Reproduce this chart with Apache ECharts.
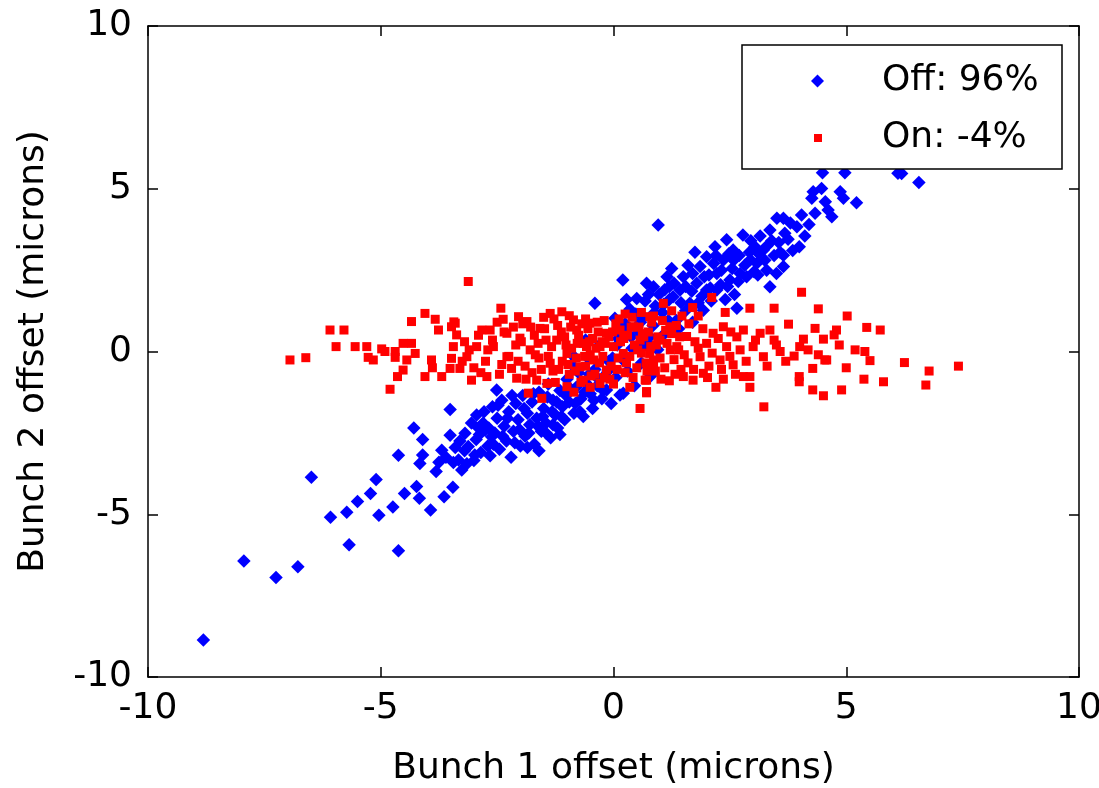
<!DOCTYPE html>
<html><head><meta charset="utf-8">
<script src="https://cdn.jsdelivr.net/npm/echarts@6/dist/echarts.min.js"></script>
<style>html,body{margin:0;padding:0;background:#fff}#c{width:1099px;height:788px}</style>
</head><body><div id="c"></div>
<script>
// ---- data ----
const seriesNames = ['Off: 96%', 'On: -4%'];
const xTicks = [-10, -5, 0, 5, 10];
const yTicks = [-10, -5, 0, 5, 10];
const xTitle = 'Bunch 1 offset (microns)';
const yTitle = 'Bunch 2 offset (microns)';

// feedback off (blue diamonds): [bunch1, bunch2]
const offPoints = [
[-8.81,-8.86],[-7.94,-6.44],[-7.25,-6.94],[-6.78,-6.61],[-6.49,-3.86],[-6.08,-5.09],[-5.68,-5.94],[-5.73,-4.94],
[-5.50,-4.61],[-5.22,-4.36],[-5.10,-3.93],[-5.04,-5.03],[-4.74,-4.78],[-4.62,-6.12],[-4.62,-3.19],[-4.29,-2.35],
[-4.10,-2.70],[-3.51,-1.78],[-4.49,-4.36],[-4.23,-4.15],[-4.17,-4.51],[-3.93,-4.87],[-3.64,-4.46],[-3.45,-4.17],
[-4.16,-3.44],[-4.10,-3.18],[-3.81,-3.69],[-3.69,-3.03],[-3.51,-2.57],[-3.33,-3.33],[-3.26,-3.64],[-3.19,-2.51],
[-3.44,-3.41],[-3.12,-2.92],[-3.30,-2.75],[-3.20,-3.05],[-3.60,-3.25],[-3.75,-3.40],[-3.40,-2.95],[-3.15,-3.45],
[-2.94,-1.95],[-2.76,-2.41],[-2.51,-1.18],[-2.95,-2.70],[-2.85,-3.10],[-2.80,-2.20],[-2.70,-2.90],[-2.65,-3.20],
[-2.60,-1.70],[-2.55,-2.50],[-2.50,-2.05],[-2.45,-3.00],[-2.40,-1.50],[-2.35,-2.30],[-2.30,-2.75],[-2.25,-1.85],
[-2.20,-3.25],[-2.15,-2.45],[-2.10,-1.60],[-2.05,-2.10],[-2.00,-2.90],[-2.90,-2.35],[-2.62,-2.62],[-3.00,-3.35],
[-1.95,-1.35],[-1.90,-2.60],[-1.85,-1.90],[-1.80,-2.25],[-1.75,-1.55],[-1.70,-2.85],[-1.65,-2.05],[-1.60,-1.25],
[-1.55,-2.45],[-1.50,-1.75],[-1.45,-2.20],[-1.40,-1.00],[-1.35,-2.65],[-1.30,-1.50],[-1.25,-1.95],[-1.20,-2.35],
[-1.15,-1.20],[-1.10,-1.70],[-1.05,-2.10],[-1.00,-0.85],[-1.85,-2.95],[-1.60,-3.05],[-1.45,-2.50],[-1.30,-2.25],
[-1.15,-2.55],
[-0.95,-1.55],[-0.90,-0.40],[-0.85,-1.90],[-0.80,-1.10],[-0.75,-0.65],[-0.70,-1.45],[-0.65,-2.00],[-0.60,-0.95],
[-0.55,-0.20],[-0.50,-1.30],[-0.45,-1.75],[-0.40,-0.55],[-0.35,-1.05],[-0.30,0.20],[-0.25,-1.45],[-0.20,-0.75],
[-0.15,-1.18],[-0.10,-0.30],[-0.05,-1.60],[-0.40,1.48],[0.03,1.02],[-0.60,0.35],[-0.85,-0.15],
[0.05,-0.80],[0.10,0.40],[0.14,-1.34],[0.20,-0.25],[0.20,2.20],[0.25,0.85],[0.30,-0.60],[0.35,1.30],
[0.40,0.10],[0.45,-1.05],[0.50,1.63],[0.55,0.60],[0.60,-0.35],[0.65,1.05],[0.70,0.30],[0.75,1.75],
[0.80,-0.75],[0.85,0.80],[0.90,1.40],[0.95,0.05],[0.71,2.10],[0.86,1.99],[0.96,3.89],[0.21,-1.28],
[1.05,1.20],[1.10,0.55],[1.15,2.30],[1.20,1.60],[1.28,1.68],[1.35,0.95],[1.43,1.89],[1.50,2.30],
[1.55,1.25],[1.60,2.65],[1.64,1.48],[1.70,0.90],[1.79,2.10],[1.86,2.61],[1.90,1.70],[1.93,1.27],
[2.00,2.91],[2.00,1.89],[1.25,2.55],[1.40,0.70],[1.75,3.05],[1.10,1.90],
[2.05,2.35],[2.10,1.55],[2.18,3.22],[2.22,2.40],[2.22,1.89],[2.30,2.05],[2.36,2.81],[2.43,3.43],
[2.50,2.20],[2.57,3.12],[2.60,1.75],[2.65,1.33],[2.72,2.40],[2.78,3.58],[2.86,2.30],[2.94,2.82],
[2.95,3.40],[2.40,1.60],[2.15,2.70],[2.70,2.95],[2.55,2.55],
[3.04,3.22],[3.08,2.71],[3.15,3.55],[3.22,3.12],[3.29,2.50],[3.36,3.73],[3.36,1.99],[3.45,2.95],
[3.51,4.09],[3.55,3.35],[3.65,4.09],[3.65,2.96],[3.65,2.61],[3.68,3.63],[3.80,3.95],[3.94,3.83],
[3.99,3.22],[3.10,2.35],[3.50,2.40],
[4.04,4.19],[4.11,3.55],[4.26,4.71],[4.29,4.91],[4.33,4.25],[4.47,5.01],[4.61,4.35],[4.69,4.14],
[4.87,4.91],[4.94,4.71],[5.22,4.57],[4.49,5.49],[4.97,5.49],[6.11,5.48],[6.19,5.47],[6.56,5.19],
[4.20,3.90],[4.55,4.60],
[-3.05,-2.20],[-2.98,-3.18],[-2.88,-2.55],[-2.78,-1.85],[-2.68,-2.35],[-2.58,-2.85],[-2.48,-1.65],[-2.38,-2.60],
[-2.28,-2.05],[-2.18,-1.35],[-2.12,-2.80],[-2.02,-2.40],[-1.92,-1.75],[-1.82,-2.50],[-1.72,-1.30],[-1.62,-2.30],
[-1.52,-2.00],[-1.42,-1.40],[-1.32,-1.85],[-1.22,-1.55],[-1.12,-2.00],[-1.02,-1.35],[-0.92,-1.15],[-0.82,-1.60],
[-0.72,-1.85],[-0.62,-1.25],[-0.52,-0.70],[-0.42,-1.50],[-0.32,-0.85],[-0.22,-1.20],[-0.12,-0.60],[-0.02,-0.20],
[0.08,0.20],[0.18,0.65],[0.28,1.60],[0.38,0.45],[0.48,1.15],[0.58,0.90],[0.68,1.55],[0.78,0.45],
[0.88,1.20],[0.98,1.75],[1.08,1.45],[1.18,0.95],[1.30,2.10],[1.45,1.50],[1.55,2.00],[1.68,1.85],
[1.82,1.50],[1.95,2.30],[2.08,1.95],[2.20,2.95],[2.32,2.50],[2.45,2.00],[2.58,2.80],[2.68,2.15],
[2.82,2.65],[2.92,3.05],[3.02,2.45],[3.12,3.00],[3.25,2.80],[3.40,3.40],[3.58,3.05],[3.75,3.45],
[3.85,3.10],[3.30,3.25],[2.48,3.00],[1.70,2.40],[1.20,2.00],[0.60,0.10]
];

// feedback on (red squares): [bunch1, bunch2]
const onPoints = [
[-6.95,-0.26],[-6.61,-0.19],[-6.09,0.66],[-5.79,0.66],[-5.96,0.15],[-5.55,0.15],[-5.30,0.15],[-5.27,-0.18],
[-5.16,-0.26],[-4.98,0.08],[-4.91,0.00],[-4.80,-1.16],[-4.64,-0.77],[-4.52,-0.57],[-4.69,0.00],[-4.69,-0.18],
[-4.52,0.25],[-4.34,0.25],[-4.44,-0.26],[-4.26,-0.06],[-4.34,0.92],[-4.05,1.17],[-3.83,0.99],[-3.76,0.66],
[-3.48,0.76],[-3.43,0.91],[-3.48,-0.21],[-3.51,-0.52],[-3.69,-0.77],[-4.05,-0.77],[-3.91,-0.26],[-3.89,-0.50],
[-3.44,0.15],[-3.37,0.51],
[-3.12,2.15],[-2.42,1.33],[-2.37,0.99],[-3.40,0.87],[-2.83,0.66],[-2.65,0.66],[-2.04,1.07],[-1.86,0.92],
[-1.36,1.17],[-1.11,1.22],[-1.58,0.71],[-3.05,-0.88],[-2.72,-0.77],[-3.30,-0.52],[-3.15,-0.16],
[-2.94,0.15],[-2.58,0.15],[-2.29,-0.16],[-2.19,-0.52],[-2.08,-0.82],[-1.83,-1.28],[-1.54,-1.44],[-1.43,-0.98],
[-1.65,-0.88],[-1.00,-1.08],[-0.65,-0.88],[-0.29,-0.98],[-0.15,-0.57],[0.57,-1.75],[0.71,-1.23],[0.68,-0.88],
[0.14,0.66],[0.43,0.76],[0.78,1.07],[0.57,0.35],[0.86,-0.26],[0.21,-0.06],[-0.29,0.15],[-0.79,0.66],
[-0.58,0.15],[-1.22,0.35],[-1.00,-0.06],[-1.36,-0.36],[-1.79,0.05],[-2.01,0.41],[-2.29,0.56],[-0.72,-0.47],
[-0.43,-0.26],[0.00,0.15],[-0.15,0.56],[-0.51,0.87],[-0.86,0.97],
[4.04,1.82],[2.93,1.33],[3.45,1.33],[4.40,1.31],[5.02,1.09],[5.44,0.74],[5.73,0.66],[6.25,-0.34],
[6.78,-0.60],[7.41,-0.45],[6.71,-1.03],[5.80,-0.93],[5.38,-0.85],[4.90,-1.18],[4.51,-1.36],[4.28,-1.18],
[3.23,-1.70],[2.93,-1.10],[2.20,-1.10],[2.36,-0.85],[5.19,0.05],[5.40,0.00],[5.51,-0.28],[4.58,-0.26],
[4.54,-0.26],[4.28,-0.52],[3.99,-0.77],[3.99,-0.93],[4.51,0.38],[4.74,0.51],[4.79,0.66],[4.33,0.71],
[3.76,0.84],[4.08,0.38],[4.18,0.05],[3.88,-0.14],[3.58,0.00],[3.36,0.66],[3.45,0.35],[3.15,0.56],
[2.79,0.66],[3.00,0.15],[3.22,-0.16],[2.93,-0.77],[2.79,-0.77],[2.36,0.76],[2.43,0.15],[2.29,-0.26],
[2.57,-0.41],[2.72,0.05],[2.00,0.25],[1.86,-0.16],[1.93,-0.67],[1.71,-0.88],[1.50,-0.77],[2.14,0.56],
[1.57,0.46],[1.36,0.15],[1.21,0.76],[1.00,0.35],[0.78,-0.06],[0.86,-0.47],[0.71,-0.88],[0.71,-1.27],
[2.11,1.66],[1.07,1.48],[0.86,1.09],[1.47,1.09],[1.82,1.09],
[-1.45,0.35],[-1.30,-0.60],[-1.20,0.80],[-1.10,-0.30],[-1.05,0.45],[-0.95,-0.70],[-0.90,0.10],[-0.80,-0.20],
[-0.75,0.50],[-0.70,-0.95],[-0.65,0.25],[-0.60,-0.45],[-0.55,0.70],[-0.50,-0.10],[-0.45,0.40],[-0.40,-0.70],
[-0.35,0.90],[-0.30,-0.35],[-0.25,0.30],[-0.20,-0.80],[-0.10,0.45],[-0.05,-0.45],[0.05,0.85],[0.10,-0.20],
[0.15,0.30],[0.25,-0.65],[0.30,0.50],[0.35,-0.15],[0.40,1.05],[0.45,0.20],[0.50,-0.50],[0.55,0.75],
[0.60,-0.05],[0.65,0.45],[0.70,-0.35],[0.75,0.60],[0.80,0.15],[0.90,-0.60],[0.95,0.45],[1.00,-0.20],
[1.05,0.95],[1.10,-0.50],[1.15,0.25],[1.20,-0.90],[1.25,0.55],[1.30,-0.25],[1.35,0.80],[1.40,0.05],
[1.45,-0.55],[-1.60,-0.20],[-1.70,0.50],[-1.90,-0.45],[-2.10,0.20],[-2.40,-0.40],[-2.60,0.35],[-2.75,-0.30],
[-2.90,0.50],[-3.20,0.30],[-3.00,-0.50],[-1.75,-0.65],[-1.25,-0.95],[-0.85,-1.25],[-0.50,-1.10],[0.00,-1.00],
[0.35,-1.10],[-1.95,0.85],[-1.50,1.05],[-0.95,1.10],[-0.60,1.00],[-0.20,0.95],[0.25,1.15],[0.60,1.20],
[1.60,-0.35],[1.75,0.30],[2.05,-0.45],[2.25,0.40],[2.50,-0.15],[2.65,0.45],[2.85,-0.30],[3.05,0.35],
[3.30,-0.45],[3.50,0.20],[3.70,-0.30],[4.00,0.15],[4.40,-0.10],[4.85,0.20],[5.00,-0.50],[1.25,1.25],
[1.70,1.35],[2.40,1.20],
[-2.50,0.90],[-2.45,-0.70],[-2.35,0.60],[-2.25,-0.15],[-2.15,0.75],[-2.05,-0.30],[-1.98,0.30],[-1.88,-0.85],
[-1.78,0.75],[-1.68,-0.10],[-1.62,0.25],[-1.55,-0.55],[-1.48,0.70],[-1.40,-0.15],[-1.33,0.15],[-1.28,1.00],
[-1.18,-0.55],[-1.12,0.60],[-1.02,0.20],[-0.98,-0.40],[-0.92,0.75],[-0.82,-0.60],[-0.78,0.25],[-0.68,0.85],
[-0.62,-0.15],[-0.52,0.30],[-0.48,-0.75],[-0.38,0.10],[-0.33,0.60],[-0.23,-0.15],[-0.18,0.25],[-0.08,-0.85],
[-0.02,0.60],[0.08,-0.55],[0.12,1.00],[0.22,0.40],[0.28,-0.35],[0.38,0.75],[0.42,-0.80],[0.52,0.05],
[0.62,0.55],[0.72,-0.60],[0.82,0.90],[0.92,0.20],[1.02,-0.85],[1.12,0.65],[1.22,0.05],[1.32,-0.70],
[1.42,0.45],[1.52,-0.10],[1.62,0.85],[1.72,-0.55],[1.82,0.10],[1.92,0.70],[2.02,-0.80],[2.12,-0.05],
[2.32,-0.55],[2.52,0.60],[2.62,-0.70],[-2.70,0.05],[-2.85,-0.65],[-3.10,0.05],[-3.25,-0.30]
];

// ---- chart ----
const FONT = 'DejaVu Sans';
const chart = echarts.init(document.getElementById('c'), null, {renderer: 'canvas'});
const axisLine = {show: true, onZero: false, lineStyle: {color: '#000', width: 1.5}};
const axisTick = {show: true, inside: true, length: 10, lineStyle: {color: '#000', width: 1.5}};
const labelStyle = {fontSize: 36, fontFamily: FONT, color: '#000'};
const base = {type: 'value', min: xTicks[0], max: xTicks[xTicks.length - 1], interval: xTicks[1] - xTicks[0], splitLine: {show: false}};
const baseY = {type: 'value', min: yTicks[0], max: yTicks[yTicks.length - 1], interval: yTicks[1] - yTicks[0], splitLine: {show: false}};

chart.setOption({
  animation: false,
  backgroundColor: '#fff',
  grid: {left: 148, top: 26, width: 931, height: 651, show: false, containLabel: false, outerBoundsMode: 'none'},
  xAxis: [
    Object.assign({}, base, {position: 'bottom', axisLine, axisTick,
      axisLabel: Object.assign({margin: 14}, labelStyle),
      name: xTitle, nameLocation: 'middle', nameGap: 74,
      nameTextStyle: {fontSize: 36, fontFamily: FONT, color: '#000'}}),
    Object.assign({}, base, {position: 'top', axisLine, axisTick, axisLabel: {show: false}})
  ],
  yAxis: [
    Object.assign({}, baseY, {position: 'left', axisLine, axisTick,
      axisLabel: Object.assign({margin: 16}, labelStyle),
      name: yTitle, nameLocation: 'middle', nameGap: 96,
      nameTextStyle: {fontSize: 36, fontFamily: FONT, color: '#000'}}),
    Object.assign({}, baseY, {position: 'right', axisLine, axisTick, axisLabel: {show: false}})
  ],
  legend: [
    {data: [seriesNames[0]], left: 811, top: 63, orient: 'vertical', padding: 0, itemGap: 0,
     icon: 'diamond', itemWidth: 13, itemHeight: 13, selectedMode: false, z: 20,
     itemStyle: {opacity: 1},
     textStyle: {fontSize: 36, fontFamily: FONT, color: '#000', padding: [0, 0, 0, 53]}},
    {data: [seriesNames[1]], left: 814, top: 120, orient: 'vertical', padding: 0, itemGap: 0,
     icon: 'rect', itemWidth: 8, itemHeight: 8, selectedMode: false, z: 20,
     itemStyle: {opacity: 1},
     textStyle: {fontSize: 36, fontFamily: FONT, color: '#000', padding: [0, 0, 0, 55]}}
  ],
  graphic: [
    {type: 'rect', z: 15, shape: {x: 742, y: 45, width: 320, height: 124},
     style: {fill: '#fff', stroke: '#000', lineWidth: 1.5}}
  ],
  series: [
    {name: seriesNames[0], type: 'scatter', data: offPoints, symbol: 'diamond', symbolSize: 13.5,
     itemStyle: {color: '#0000ff', opacity: 1}, z: 2},
    {name: seriesNames[1], type: 'scatter', data: onPoints, symbol: 'rect', symbolSize: 9,
     itemStyle: {color: '#ff0000', opacity: 1}, z: 3}
  ]
});
</script>
</body></html>
